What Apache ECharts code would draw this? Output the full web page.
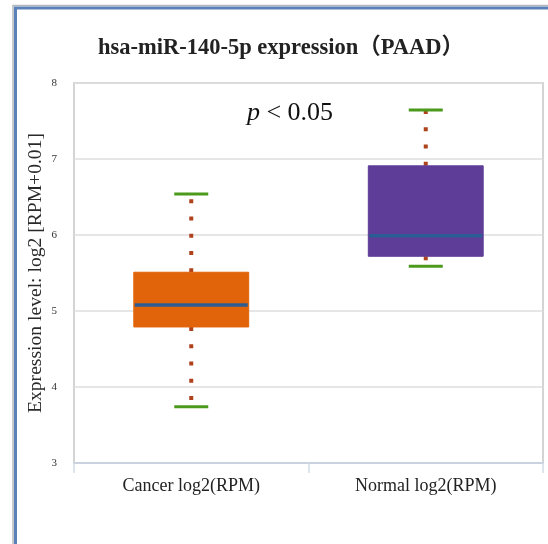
<!DOCTYPE html>
<html>
<head>
<meta charset="utf-8">
<script src="https://cdn.jsdelivr.net/npm/echarts@6/dist/echarts.min.js"></script>
<style>
  html, body { margin: 0; padding: 0; background: #fff; }
  #chart { width: 548px; height: 544px; }
</style>
</head>
<body>
<div id="chart"></div>
<script>
// values (log2 RPM)
const categories = ['Cancer log2(RPM)', 'Normal log2(RPM)'];
const minValues = [3.74, 5.59];
const q1Values = [4.79, 5.72];
const medianValues = [5.08, 5.99];
const q3Values = [5.51, 6.91];
const maxValues = [6.54, 7.645];
const boxColors = ['#e2640a', '#5e3d98'];

const serif = "'Liberation Serif', 'Times New Roman', serif";

const boxData = categories.map((c, i) =>
  [i, minValues[i], q1Values[i], medianValues[i], q3Values[i], maxValues[i]]);

const chart = echarts.init(document.getElementById('chart'));

function renderBox(params, api) {
  const i = api.value(0);
  const band = api.size([1, 0])[0];
  const boxW = band * 0.49;
  const capW = band * 0.145;
  const pMin = api.coord([i, api.value(1)]);
  const pQ1 = api.coord([i, api.value(2)]);
  const pMed = api.coord([i, api.value(3)]);
  const pQ3 = api.coord([i, api.value(4)]);
  const pMax = api.coord([i, api.value(5)]);
  const x = pMin[0];
  const dots = { stroke: '#ad421b', lineWidth: 4, lineDash: [4, 13.25] };
  return {
    type: 'group',
    children: [
      // dotted whiskers start at the box edges
      { type: 'line', shape: { x1: x, y1: pQ1[1], x2: x, y2: pMin[1] }, style: dots },
      { type: 'line', shape: { x1: x, y1: pQ3[1], x2: x, y2: pMax[1] }, style: dots },
      {
        type: 'rect',
        shape: { x: x - boxW / 2, y: pQ3[1], width: boxW, height: pQ1[1] - pQ3[1] },
        style: { fill: boxColors[i], stroke: boxColors[i], lineWidth: 1 }
      },
      {
        type: 'line',
        shape: { x1: x - boxW / 2 + 1, y1: pMed[1], x2: x + boxW / 2 - 1, y2: pMed[1] },
        style: { stroke: '#2b5c94', lineWidth: 3.5 }
      },
      {
        type: 'line',
        shape: { x1: x - capW / 2, y1: pMax[1], x2: x + capW / 2, y2: pMax[1] },
        style: { stroke: '#4c9a1c', lineWidth: 3 }
      },
      {
        type: 'line',
        shape: { x1: x - capW / 2, y1: pMin[1], x2: x + capW / 2, y2: pMin[1] },
        style: { stroke: '#4c9a1c', lineWidth: 3 }
      }
    ]
  };
}

const option = {
  backgroundColor: '#fff',
  animation: false,
  grid: {
    left: 74, right: 5, top: 83, bottom: 81,
    show: true, borderColor: '#d4d4d4', borderWidth: 2
  },
  xAxis: {
    type: 'category',
    data: categories,
    axisLine: { show: true, lineStyle: { color: '#c9d2de', width: 2 } },
    axisTick: { show: true, length: 10, lineStyle: { color: '#d3dbe5', width: 1.5 } },
    axisLabel: { color: '#222', fontFamily: serif, fontSize: 18, margin: 14 },
    splitLine: { show: false }
  },
  yAxis: {
    type: 'value',
    min: 3, max: 8, interval: 1,
    name: 'Expression level: log2 [RPM+0.01]',
    nameLocation: 'middle',
    nameGap: 28,
    nameMoveOverlap: false,
    nameRotate: 90,
    nameTextStyle: { color: '#2a2a2a', fontFamily: serif, fontSize: 19.6 },
    axisLine: { show: false },
    axisTick: { show: false },
    axisLabel: { color: '#333', fontFamily: serif, fontSize: 11, margin: 17 },
    splitLine: { lineStyle: { color: '#dedede', width: 1.5 } }
  },
  graphic: [
    {
      type: 'rect', silent: true, z: 100,
      shape: { x: 13, y: 5.5, width: 800, height: 800 },
      style: { fill: 'none', stroke: '#b5b8bc', lineWidth: 1.5 }
    },
    {
      type: 'rect', silent: true, z: 100,
      shape: { x: 15.5, y: 8, width: 800, height: 800 },
      style: { fill: 'none', stroke: '#5a82b8', lineWidth: 3 }
    },
    {
      type: 'text', x: 281, y: 48, z: 100,
      style: {
        text: 'hsa-miR-140-5p expression（PAAD）',
        font: "bold 22.5px 'Liberation Serif', 'Noto Sans CJK SC', serif",
        fill: '#222', align: 'center', verticalAlign: 'middle'
      }
    },
    {
      type: 'text', x: 290, y: 113, z: 100,
      style: {
        text: '{i|p} < 0.05',
        font: "26px 'Liberation Serif', serif",
        fill: '#111', align: 'center', verticalAlign: 'middle',
        rich: { i: { fontStyle: 'italic', fontFamily: serif, fontSize: 26, fill: '#111' } }
      }
    }
  ],
  series: [
    {
      type: 'custom',
      renderItem: renderBox,
      encode: { x: 0, y: [1, 2, 3, 4, 5] },
      data: boxData,
      z: 10
    }
  ]
};

chart.setOption(option);
</script>
</body>
</html>
